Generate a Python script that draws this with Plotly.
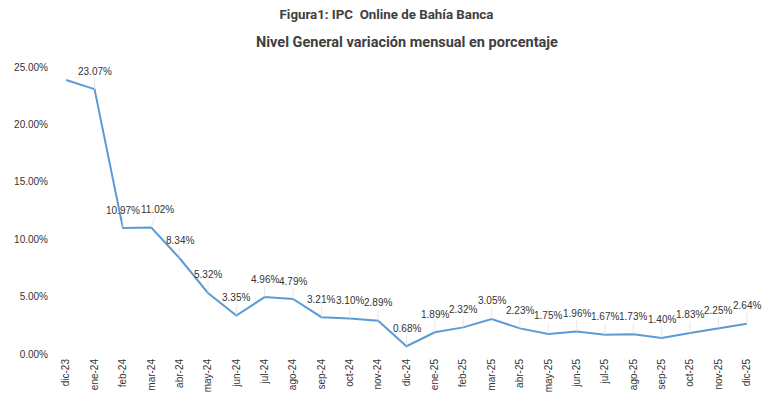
import plotly.graph_objects as go

meses = ["dic-23", "ene-24", "feb-24", "mar-24", "abr-24", "may-24", "jun-24", "jul-24",
         "ago-24", "sep-24", "oct-24", "nov-24", "dic-24", "ene-25", "feb-25", "mar-25",
         "abr-25", "may-25", "jun-25", "jul-25", "ago-25", "sep-25", "oct-25", "nov-25", "dic-25"]
variacion = [23.87, 23.07, 10.97, 11.02, 8.34, 5.32, 3.35, 4.96, 4.79, 3.21, 3.10, 2.89,
             0.68, 1.89, 2.32, 3.05, 2.23, 1.75, 1.96, 1.67, 1.73, 1.40, 1.83, 2.25, 2.64]
y_ticks = [0, 5, 10, 15, 20, 25]

label_font = dict(family="Arial, Liberation Sans, sans-serif", size=10, color="#333333")

fig = go.Figure()
fig.add_trace(go.Scatter(
    x=meses, y=variacion,
    mode="lines",
    line=dict(color="#5B9BD5", width=2),
    hoverinfo="x+y",
))

# data labels with thin leader lines (the first month has no label)
for mes, v in zip(meses[1:], variacion[1:]):
    fig.add_annotation(
        x=mes, y=v, text=f"{v:.2f}%",
        showarrow=True, arrowhead=0, arrowwidth=0.8, arrowcolor="#e0e0e0",
        ax=6 if mes == "mar-24" else 0, ay=-18, standoff=0,
        font=label_font,
    )

# second title line
fig.add_annotation(
    xref="paper", yref="paper", x=0.5, y=1.087, xanchor="center", yanchor="middle",
    text="<b>Nivel General variación mensual en porcentaje</b>", showarrow=False,
    font=dict(family="Roboto", size=14.5, color="#404040"),
)

fig.update_layout(
    width=773, height=403,
    margin=dict(l=52, r=12, t=67, b=49),
    paper_bgcolor="white", plot_bgcolor="white",
    showlegend=False,
    font=dict(family="Roboto", color="#404040"),
    title=dict(
        text="<b>Figura1: IPC  Online de Bahía Banca</b>",
        x=0.5, xanchor="center", yref="container", y=0.965, yanchor="middle",
        font=dict(family="Roboto", size=13.3, color="#404040"),
    ),
    xaxis=dict(
        range=[-0.5, len(meses) - 0.5],
        tickangle=-90, tickfont=label_font,
        showgrid=False, showline=False, zeroline=False, ticks="",
        ticklabelstandoff=2,
    ),
    yaxis=dict(
        range=[0, 25], tickvals=y_ticks,
        ticktext=[f"{t:.2f}%" for t in y_ticks],
        tickfont=label_font,
        showgrid=False, showline=False, zeroline=False, ticks="",
        ticklabelstandoff=3,
    ),
)

fig.write_html("out.html", config={"displayModeBar": False},
               post_script="document.body.style.margin='0';")
